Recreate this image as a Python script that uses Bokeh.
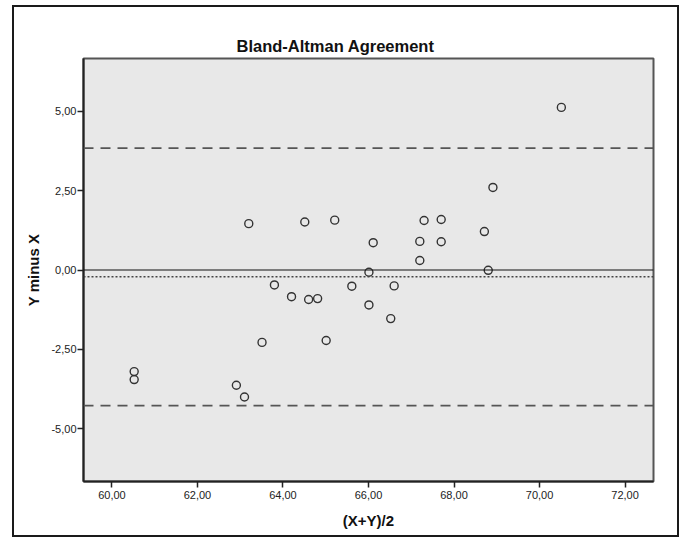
from bokeh.plotting import figure
from bokeh.models import Range1d, FixedTicker, Span, InlineStyleSheet
from bokeh.embed import file_html
from bokeh.resources import INLINE

# ---- data ----
mean_xy = [60.52, 60.52, 62.91, 63.10, 63.20, 63.51, 63.80, 64.20, 64.51, 64.60,
           64.81, 65.01, 65.21, 65.61, 66.01, 66.01, 66.11, 66.52, 66.60, 67.20,
           67.20, 67.30, 67.70, 67.70, 68.71, 68.80, 68.91, 70.51]
diff_yx = [-3.20, -3.45, -3.63, -4.00, 1.46, -2.28, -0.47, -0.84, 1.51, -0.93,
           -0.90, -2.22, 1.57, -0.51, -0.07, -1.10, 0.86, -1.53, -0.50, 0.30,
           0.90, 1.56, 1.59, 0.89, 1.21, -0.01, 2.60, 5.12]
zero_line = 0.0
mean_diff = -0.21
upper_loa = 3.84
lower_loa = -4.27

x_ticks = [60, 62, 64, 66, 68, 70, 72]
x_tick_labels = ["60,00", "62,00", "64,00", "66,00", "68,00", "70,00", "72,00"]
y_ticks = [-5.0, -2.5, 0.0, 2.5, 5.0]
y_tick_labels = ["-5,00", "-2,50", "0,00", "2,50", "5,00"]

FONT = "Liberation Sans"

p = figure(width=680, height=538, output_backend="svg", toolbar_location=None,
           x_range=Range1d(59.335, 72.665), y_range=Range1d(-6.66, 6.66),
           min_border_left=83, min_border_right=27, min_border_top=58,
           min_border_bottom=57,
           title="Bland-Altman Agreement",
           x_axis_label="(X+Y)/2", y_axis_label="Y minus X")

# outer chart border, drawn by CSS over the figure
p.stylesheets = [InlineStyleSheet(css=(
    ":host{position:relative;}"
    ":host::after{content:'';position:absolute;left:12px;top:5px;"
    "width:663px;height:528px;border:2px solid #1a1a1a;"
    "z-index:100;pointer-events:none;}"))]

p.background_fill_color = "#e8e8e8"
p.border_fill_color = "white"
p.outline_line_color = "#555555"
p.outline_line_width = 2
p.xgrid.visible = False
p.ygrid.visible = False

p.title.text_font = FONT
p.title.text_font_size = "16.5px"
p.title.text_font_style = "bold"
p.title.text_color = "#111111"
p.title.align = "left"
p.title.offset = 153
p.title.standoff = 7

for ax in (p.xaxis[0], p.yaxis[0]):
    ax.axis_line_color = "#222222"
    ax.axis_line_width = 2
    ax.major_tick_line_color = "#222222"
    ax.major_tick_line_width = 1.5
    ax.major_tick_out = 6
    ax.major_tick_in = 0
    ax.minor_tick_line_color = None
    ax.major_label_text_font = FONT
    ax.major_label_text_font_size = "11px"
    ax.major_label_text_color = "#222222"
    ax.axis_label_text_font = FONT
    ax.axis_label_text_font_size = "15px"
    ax.axis_label_text_font_style = "bold"
    ax.axis_label_text_color = "#111111"

p.xaxis[0].ticker = FixedTicker(ticks=x_ticks)
p.xaxis[0].major_label_overrides = dict(zip(x_ticks, x_tick_labels))
p.xaxis[0].major_label_standoff = 3
p.xaxis[0].axis_label_standoff = 10

p.yaxis[0].ticker = FixedTicker(ticks=y_ticks)
p.yaxis[0].major_label_overrides = dict(zip(y_ticks, y_tick_labels))
p.yaxis[0].major_label_standoff = 1
p.yaxis[0].axis_label_standoff = 6

p.add_layout(Span(location=zero_line, dimension="width", line_color="#111111",
                  line_width=1.2))
p.add_layout(Span(location=mean_diff, dimension="width", line_color="#444444",
                  line_width=1.5, line_dash="2 2"))
p.add_layout(Span(location=upper_loa, dimension="width", line_color="#555555",
                  line_width=1.8, line_dash="10 7"))
p.add_layout(Span(location=lower_loa, dimension="width", line_color="#555555",
                  line_width=1.8, line_dash="10 7"))

p.scatter(mean_xy, diff_yx, marker="circle", size=8, fill_color=None,
          line_color="#333333", line_width=1.4)

open("out.html", "w").write(file_html(p, INLINE))
